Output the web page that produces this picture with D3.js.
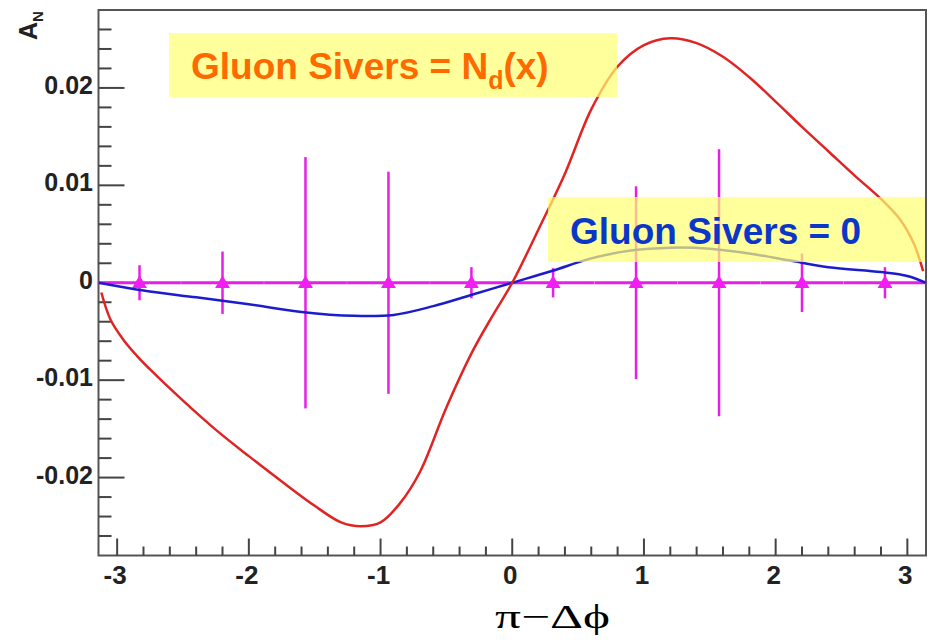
<!DOCTYPE html>
<html>
<head>
<meta charset="utf-8">
<script src="https://cdn.jsdelivr.net/npm/d3@7"></script>
<style>
body { margin: 0; background: #fff; }
</style>
</head>
<body>
<svg class="chart" width="929" height="641"></svg>
<script>
// points of the measured asymmetry (all sit on zero)
var binCenters = [-2.83, -2.2, -1.57, -0.94, -0.31, 0.31, 0.94, 1.57, 2.2, 2.83];
var binValues = [0, 0, 0, 0, 0, 0, 0, 0, 0, 0];
var binErrors = [0.0018, 0.0032, 0.0129, 0.0114, 0.0016, 0.0015, 0.0099, 0.0137, 0.0030, 0.0016];

// gluon sivers = N_d(x) curve
var redX = [-3.12, -3.05, -2.95, -2.85, -2.75, -2.5, -2.25, -2.0, -1.75, -1.5, -1.3, -1.15, -1.0, -0.85, -0.7, -0.5, -0.3, -0.15, 0,
            0.2, 0.4, 0.6, 0.8, 1.0, 1.2, 1.4, 1.6, 1.8, 2.0, 2.2, 2.4, 2.6, 2.8, 2.95, 3.05, 3.12];
var redY = [-0.001, -0.0038, -0.0059, -0.0075, -0.0089, -0.0121, -0.0151, -0.0178, -0.0204, -0.0229, -0.0246, -0.025, -0.0246, -0.0226, -0.0194, -0.0128, -0.0070, -0.0034, 0,
            0.0055, 0.0112, 0.0178, 0.0222, 0.0244, 0.0251, 0.0246, 0.0232, 0.0211, 0.0186, 0.0160, 0.0135, 0.0110, 0.0086, 0.0064, 0.004, 0.0012];

// gluon sivers = 0 curve
var blueX = [-3.14, -2.8, -2.4, -2.0, -1.6, -1.2, -0.9, -0.6, -0.3, 0, 0.3, 0.6, 0.9, 1.2, 1.5, 1.8, 2.1, 2.4, 2.8, 3.0, 3.14];
var blueY = [0, -0.0008, -0.0015, -0.0022, -0.003, -0.0034, -0.0033, -0.0024, -0.0012, 0, 0.0012, 0.0025, 0.0033, 0.0036, 0.0035, 0.003, 0.0023, 0.0016, 0.0011, 0.0007, 0];

var xMajor = [-3, -2, -1, 0, 1, 2, 3];
var yMajor = [-0.02, -0.01, 0, 0.01, 0.02];
var yLabels = ["-0.02", "-0.01", "0", "0.01", "0.02"];

var frameLeft = 98.5, frameRight = 926, frameTop = 10, frameBottom = 555.5;

var svg = d3.select(".chart");

var xScale = d3.scaleLinear()
.domain([-Math.PI, Math.PI])
.range([frameLeft, frameRight]);

var yScale = d3.scaleLinear()
.domain([-0.028, 0.028])
.range([frameBottom, frameTop]);

//frame
svg.append("rect")
.attr("x", frameLeft)
.attr("y", frameTop)
.attr("width", frameRight - frameLeft)
.attr("height", frameBottom - frameTop)
.attr("fill", "none")
.attr("stroke", "#555")
.attr("stroke-width", 2);

//x ticks, 5 divisions between majors
var xMinor = d3.range(-3.2, 3.21, 0.2).filter(function(v){ return xScale(v) > frameLeft && xScale(v) < frameRight; });
svg.selectAll(".xminor")
.data(xMinor)
.enter().append("line")
.attr("x1", function(d){ return xScale(d); })
.attr("x2", function(d){ return xScale(d); })
.attr("y1", frameBottom)
.attr("y2", function(d){ return Math.abs(d - Math.round(d)) < 1e-6 ? frameBottom - 17 : frameBottom - 9; })
.attr("stroke", "#444")
.attr("stroke-width", 2);

svg.selectAll(".xlab")
.data(xMajor)
.enter().append("text")
.attr("x", function(d){ return xScale(d) - 2; })
.attr("y", 584)
.attr("text-anchor", "middle")
.attr("font-family", "Liberation Sans, Arial, sans-serif")
.attr("font-weight", "bold")
.attr("font-size", 26)
.attr("fill", "#222")
.text(function(d){ return d; });

//y ticks
var yMinor = d3.range(-0.028, 0.0281, 0.002).filter(function(v){ return yScale(v) > frameTop + 1 && yScale(v) < frameBottom - 1; });
svg.selectAll(".yminor")
.data(yMinor)
.enter().append("line")
.attr("x1", frameLeft)
.attr("x2", function(d){ return Math.abs(d * 100 - Math.round(d * 100)) < 1e-6 ? frameLeft + 26 : frameLeft + 13; })
.attr("y1", function(d){ return yScale(d); })
.attr("y2", function(d){ return yScale(d); })
.attr("stroke", "#444")
.attr("stroke-width", 2);

svg.selectAll(".ylab")
.data(yMajor)
.enter().append("text")
.attr("x", 93)
.attr("y", function(d){ return yScale(d) + 6; })
.attr("text-anchor", "end")
.attr("font-family", "Liberation Sans, Arial, sans-serif")
.attr("font-weight", "bold")
.attr("font-size", 25)
.attr("fill", "#222")
.text(function(d, i){ return yLabels[i]; });

//A_N label
var an = svg.append("text")
.attr("transform", "translate(37,40) rotate(-90)")
.attr("font-family", "Liberation Sans, Arial, sans-serif")
.attr("font-weight", "bold")
.attr("font-size", 25)
.attr("fill", "#222");
an.append("tspan").text("A");
an.append("tspan").attr("font-size", 15).attr("dy", 6).text("N");

//x title
svg.append("text")
.attr("x", 495)
.attr("y", 628)
.attr("textLength", 115)
.attr("lengthAdjust", "spacingAndGlyphs")
.attr("font-family", "Liberation Serif, Times New Roman, serif")
.attr("font-size", 34)
.attr("fill", "#000")
.text("\u03c0\u2212\u0394\u03d5");

//magenta points: horizontal bin bars, vertical errors, triangles
var binWidth = 2 * Math.PI / binCenters.length;
svg.selectAll(".xerr")
.data(binCenters)
.enter().append("line")
.attr("x1", function(d){ return xScale(d - binWidth / 2); })
.attr("x2", function(d){ return xScale(d + binWidth / 2); })
.attr("y1", function(d, i){ return yScale(binValues[i]); })
.attr("y2", function(d, i){ return yScale(binValues[i]); })
.attr("stroke", "#e61ee6")
.attr("stroke-width", 3);

svg.selectAll(".yerr")
.data(binCenters)
.enter().append("line")
.attr("x1", function(d){ return xScale(d); })
.attr("x2", function(d){ return xScale(d); })
.attr("y1", function(d, i){ return yScale(binValues[i] - binErrors[i]); })
.attr("y2", function(d, i){ return yScale(binValues[i] + binErrors[i]); })
.attr("stroke", "#e61ee6")
.attr("stroke-width", 2.5);

svg.selectAll(".tri")
.data(binCenters)
.enter().append("path")
.attr("d", d3.symbol().type(d3.symbolTriangle).size(95))
.attr("transform", function(d, i){ return "translate(" + xScale(d) + "," + (yScale(binValues[i]) + 1) + ")"; })
.attr("fill", "#f01ef0");

//curves
var line = d3.line()
.x(function(d){ return xScale(d[0]); })
.y(function(d){ return yScale(d[1]); })
.curve(d3.curveCatmullRom);

svg.append("path")
.attr("d", line(d3.zip(blueX, blueY)))
.attr("fill", "none")
.attr("stroke", "#1c1ccc")
.attr("stroke-width", 2.5);

svg.append("path")
.attr("d", line(d3.zip(redX, redY)))
.attr("fill", "none")
.attr("stroke", "#e02424")
.attr("stroke-width", 2.5);

//yellow boxes with labels
function addLabel(x, y, w, h, parts, color, tx, ty) {
    svg.append("rect")
    .attr("x", x)
    .attr("y", y)
    .attr("width", w)
    .attr("height", h)
    .attr("fill", "#ffff70")
    .attr("opacity", 0.7);

    var t = svg.append("text")
    .attr("x", tx)
    .attr("y", ty)
    .attr("font-family", "Liberation Sans, Arial, sans-serif")
    .attr("font-weight", "bold")
    .attr("font-size", 37)
    .attr("fill", color);
    parts.forEach(function(p){
        var s = t.append("tspan").text(p.text);
        if (p.sub) s.attr("font-size", 25).attr("dy", 10);
        if (p.back) s.attr("dy", -10);
    });
}

addLabel(169, 33, 448, 64, [{text: "Gluon Sivers = N"}, {text: "d", sub: true}, {text: "(x)", back: true}], "#ff6a00", 191, 79);
addLabel(548, 197, 377, 65, [{text: "Gluon Sivers = 0"}], "#0a37c8", 570, 244);
</script>
</body>
</html>
